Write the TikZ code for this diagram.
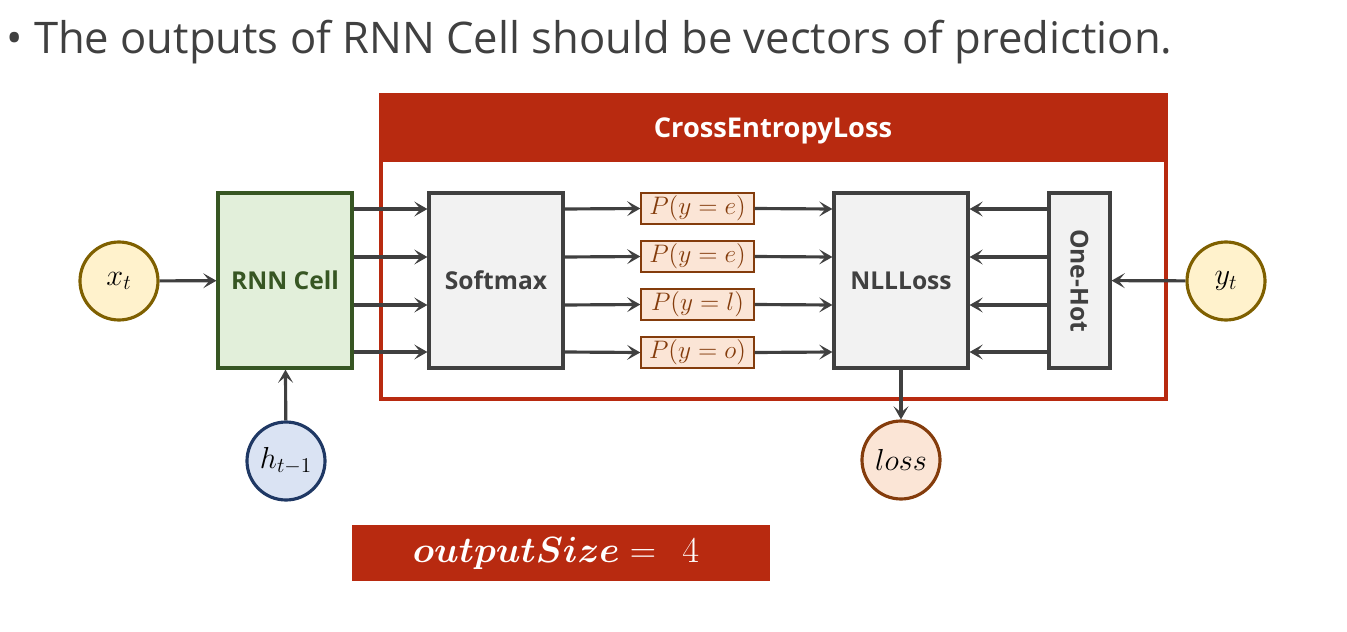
\documentclass[tikz,border=0pt]{standalone}
\usepackage{amsmath,bm}
\usepackage[no-math]{fontspec}
\newfontfamily\segoe{Open Sans}
\usetikzlibrary{arrows.meta}
\definecolor{dgray}{RGB}{64,64,64}
\definecolor{boxgray}{RGB}{242,242,242}
\definecolor{cered}{RGB}{184,42,16}
\definecolor{gfill}{RGB}{226,239,218}
\definecolor{gline}{RGB}{55,86,35}
\definecolor{yfill}{RGB}{255,242,204}
\definecolor{yline}{RGB}{127,96,0}
\definecolor{bfill}{RGB}{218,227,243}
\definecolor{bline}{RGB}{31,56,100}
\definecolor{ofill}{RGB}{251,229,214}
\definecolor{oline}{RGB}{132,60,12}
\newdimen\px \px=0.02cm
\tikzset{
  arr/.style={draw=dgray,line width=1.8pt,-{Stealth[length=7.5pt,width=8.5pt,inset=3.5pt]}},
  blockbox/.style={draw=dgray,fill=boxgray,line width=1.8pt,minimum width=134\px,minimum height=175\px,inner sep=0pt,
     font=\segoe\bfseries\fontsize{14}{16}\selectfont,text=dgray},
  pbox/.style={draw=oline,fill=ofill,line width=0.8pt,minimum width=113\px,minimum height=31\px,inner sep=0pt,
     text=oline,font=\fontsize{15.5}{18}\selectfont},
  varcirc/.style={circle,line width=1.8pt,minimum size=78\px,inner sep=0pt,font=\fontsize{16.5}{18}\selectfont},
}
\begin{document}
\begin{tikzpicture}[x=0.02cm,y=-0.02cm]
\useasboundingbox (0,0) rectangle (1347,632);
% title
\node[anchor=base west,inner sep=0pt,text=dgray,font=\segoe\fontsize{24.8}{30}\selectfont] (title) at (6,53)
  {\textbullet\ The outputs of RNN Cell should be vectors of prediction.};
% cross entropy box
\draw[cered,line width=1.8pt] (381,95) rectangle (1166,399);
\fill[cered] (381,95) rectangle (1166,162);
\node[text=white,font=\segoe\bfseries\fontsize{15.5}{18}\selectfont] (celabel) at (773,131) {CrossEntropyLoss};
% row coordinates
\coordinate (r1) at (0,209);
\coordinate (r2) at (0,257);
\coordinate (r3) at (0,305);
\coordinate (r4) at (0,352);
% blocks
\node[blockbox,fill=gfill,draw=gline,text=gline] (rnn) at (285,280.5) {RNN Cell};
\node[blockbox] (soft) at (496,280.5) {Softmax};
\node[blockbox] (nll) at (901,280.5) {NLLLoss};
\node[blockbox,minimum width=61\px] (oh) at (1079.5,280.5) {};
\node[rotate=-90,text=dgray,font=\segoe\bfseries\fontsize{14}{16}\selectfont] (ohlabel) at (oh.center) {One-Hot};
% P boxes
\node[pbox] (p1) at (697.5,208.5) {$P(y=e)$};
\node[pbox] (p2) at (697.5,256.5) {$P(y=e)$};
\node[pbox] (p3) at (697.5,304.5) {$P(y=l)$};
\node[pbox] (p4) at (697.5,352.5) {$P(y=o)$};
% circles
\node[varcirc,draw=yline,fill=yfill] (xt) at (119,281) {$x_t$};
\node[varcirc,draw=bline,fill=bfill] (ht) at (286,461) {$h_{t-1}$};
\node[varcirc,draw=yline,fill=yfill] (yt) at (1226,281) {$y_t$};
\node[varcirc,draw=oline,fill=ofill] (loss) at (901,460) {$loss$};
% output size
\node[fill=cered,minimum width=418\px,minimum height=56\px,inner sep=0pt] (osbox) at (561,553) {};
\node[text=white,font=\fontsize{22.5}{26}\selectfont] (oslabel) at (556,553) {$\bm{outputSize}=\;\,4$};
% arrows
\draw[arr] (xt) -- (rnn);
\draw[arr] (ht) -- (rnn);
\draw[arr] (yt) -- (oh);
\draw[arr] (nll) -- (loss);
\foreach \r/\p in {r1/p1,r2/p2,r3/p3,r4/p4}{
  \draw[arr] (rnn.east |- \r) -- (soft.west |- \r);
  \draw[arr] (soft.east |- \r) -- (\p.west);
  \draw[arr] (\p.east) -- (nll.west |- \r);
  \draw[arr] (oh.west |- \r) -- (nll.east |- \r);
}
\end{tikzpicture}
\end{document}
